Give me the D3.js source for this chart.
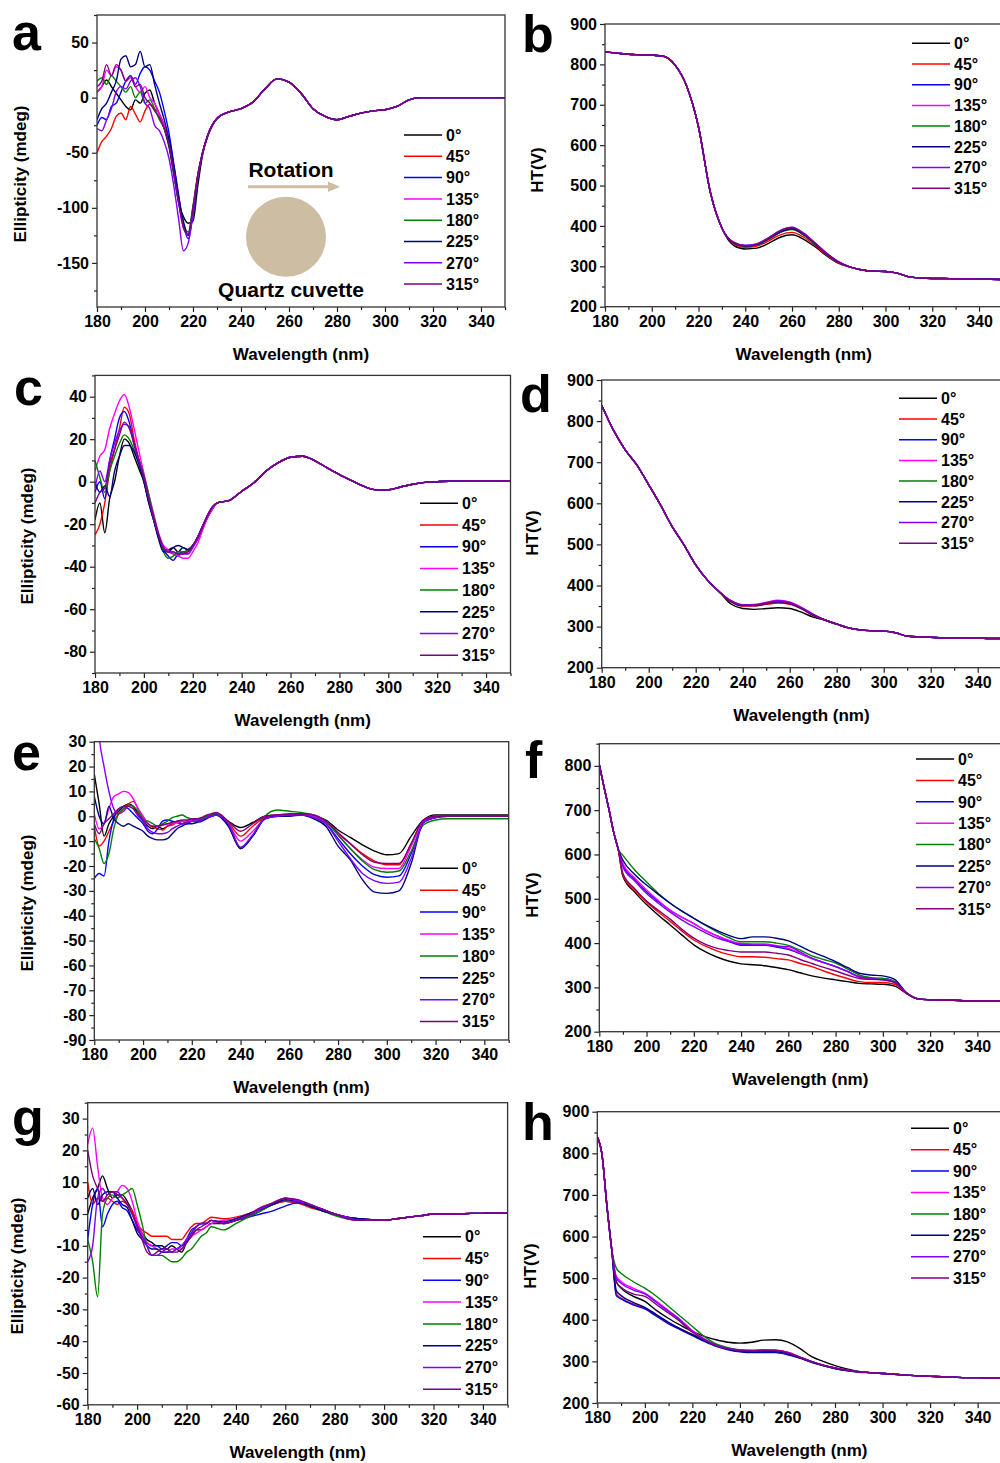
<!DOCTYPE html>
<html>
<head>
<meta charset="utf-8">
<script src="https://cdn.jsdelivr.net/npm/d3@7"></script>
<style>
  body { margin: 0; background: #fff; }
  svg { display: block; font-family: "Liberation Sans", Arial, sans-serif; font-weight: bold; }
</style>
</head>
<body>
<svg id="fig" width="1000" height="1463"></svg>
<script>
// ---- legend / series identity ----
const angleLabels = ["0°", "45°", "90°", "135°", "180°", "225°", "270°", "315°"];
const angleColors = ["#000000", "#ff0000", "#0000ff", "#ff00ff", "#008000", "#000080", "#8000ff", "#800080"];

// ---- wavelength grids (nm) ----
const cdWl = [180, 182, 184, 186, 188, 190, 192, 194, 196, 198, 200, 202, 204, 206, 208, 210, 212, 214, 216, 218, 220, 222, 224, 226, 228, 230,
  235, 240, 245, 250, 255, 260, 265, 270, 275, 280, 285, 290, 295, 300, 305, 310, 315, 320, 325, 330, 335, 340, 345, 350];
const htWl = [180, 185, 190, 195, 200, 205, 210, 215, 220, 225, 230, 235, 240, 245, 250, 255, 260, 265, 270, 275, 280, 285, 290, 295, 300,
  305, 310, 315, 320, 325, 330, 335, 340, 345, 350];
const htWlFine = [180, 182, 184, 186, 188, 190, 195, 200, 205, 210, 215, 220, 225, 230, 235, 240, 245, 250, 255, 260, 265, 270, 275, 280,
  285, 290, 295, 300, 305, 310, 315, 320, 325, 330, 335, 340, 345, 350];

const xMajor = [180, 200, 220, 240, 260, 280, 300, 320, 340];
const xMinor = [190, 210, 230, 250, 270, 290, 310, 330, 350];

// ---- panel a: CD, 180-230 per angle, shared tail 235-350 ----
const aHeads = [
  [5, 10, 16, 10, 4, -2, -8, -11, -2, -5, 4, 7, -5, -15, -28, -45, -70, -95, -108, -114, -112, -80, -52, -36, -26, -19],
  [-50, -40, -35, -28, -17, -14, -20, -8, -15, -22, -12, -6, -10, -15, -25, -40, -65, -92, -115, -125, -100, -70, -50, -35, -25, -19],
  [-25, -18, -20, -8, -5, 5, 15, 20, 12, 22, 28, 25, 15, 5, -12, -32, -60, -88, -115, -128, -105, -72, -50, -35, -25, -19],
  [5, 10, 25, 20, 28, 25, 15, 18, 10, 5, 10, 0, -5, -15, -25, -40, -65, -95, -118, -125, -100, -72, -50, -35, -25, -19],
  [15, 18, 12, 20, 15, 10, 5, 10, 0, 5, -5, -2, -10, -20, -28, -42, -68, -95, -115, -122, -98, -70, -50, -35, -25, -19],
  [-20, -10, -5, 5, 15, 35, 38, 28, 30, 42, 28, 30, 12, -5, -20, -38, -62, -90, -112, -125, -105, -72, -50, -35, -25, -19],
  [-28, -30, -20, -10, 5, 10, 8, 15, 18, 10, -5, -10, -25, -30, -40, -55, -80, -110, -139, -132, -105, -72, -50, -35, -25, -19],
  [10, 15, 30, 20, 30, 25, 15, 20, 10, 12, 0, -5, -12, -18, -28, -42, -68, -95, -118, -124, -100, -70, -50, -35, -25, -19]
];
const aTail = [-13, -10, -4, 8, 17, 14, 4, -10, -17, -20, -17, -14, -12, -11, -8, -2, 0, 0, 0, 0, 0, 0, 0, 0];

// ---- panel b: HT ----
const bHead = [831, 828, 825, 824, 823, 820, 798, 745, 645, 485, 395];
const bMids = [
  [352, 343, 345, 357, 372, 378, 367, 348, 325, 307],
  [356, 347, 350, 363, 378, 384, 372, 351, 327, 308],
  [358, 350, 354, 368, 385, 392, 378, 355, 330, 310],
  [359, 351, 355, 370, 387, 395, 380, 356, 331, 310],
  [358, 350, 353, 367, 384, 391, 377, 354, 330, 310],
  [358, 350, 354, 368, 385, 393, 379, 355, 330, 310],
  [360, 352, 356, 371, 389, 397, 382, 357, 332, 311],
  [359, 351, 355, 370, 388, 396, 381, 357, 331, 311]
];
const bTail = [298, 291, 288, 287, 283, 274, 271, 270, 270, 269, 269, 268, 268, 267];

// ---- panel c: CD ----
const cHeads = [
  [-18, -10, -24, -8, 0, 12, 20, 18, 12, 6, 0, -10, -18, -26, -32, -32, -31, -33, -31, -32, -30, -27, -22, -17, -13, -10],
  [-25, -20, -10, 5, 15, 25, 35, 32, 20, 10, 2, -8, -17, -25, -31, -33, -34, -35, -33, -34, -31, -27, -21, -16, -12, -10],
  [-5, 0, -8, 10, 20, 30, 33, 28, 18, 10, 1, -9, -18, -26, -32, -35, -37, -34, -33, -33, -30, -26, -21, -16, -12, -10],
  [5, 12, 15, 25, 32, 38, 41, 35, 25, 14, 4, -6, -15, -24, -30, -32, -34, -35, -36, -36, -33, -29, -23, -17, -13, -10],
  [10, 2, -5, 5, 12, 18, 22, 20, 15, 10, 3, -6, -16, -25, -33, -36, -35, -33, -33, -32, -30, -26, -21, -16, -12, -10],
  [0, -5, -2, -7, 5, 12, 17, 17, 14, 8, 0, -10, -18, -27, -33, -33, -31, -30, -31, -32, -30, -26, -21, -16, -12, -10],
  [-3, 5, 0, 10, 18, 24, 27, 26, 17, 10, 2, -8, -17, -25, -31, -33, -33, -34, -34, -34, -31, -27, -21, -16, -12, -10],
  [-10, -5, -3, 8, 15, 22, 28, 25, 18, 10, 2, -8, -17, -25, -31, -33, -33, -34, -34, -33, -30, -26, -21, -16, -12, -10]
];
const cTail = [-8.8, -4.5, -0.5, 5, 9, 11.5, 12, 9.8, 6.5, 3.3, 0.5, -2.2, -3.8, -3.8, -2.5, -1.2, -0.3, 0, 0.2, 0.2, 0.3, 0.3, 0.3, 0.3];

// ---- panel d: HT ----
const dHead = [838, 778, 730, 693, 645, 596, 543, 499, 450, 413, 385];
const dMids = [
  [355, 344, 342, 344, 346, 344, 335, 323],
  [360, 350, 350, 354, 357, 354, 343, 327],
  [362, 352, 352, 357, 361, 357, 345, 329],
  [363, 353, 354, 359, 364, 360, 347, 330],
  [362, 352, 352, 357, 361, 357, 345, 329],
  [361, 351, 351, 356, 360, 356, 344, 328],
  [363, 353, 353, 358, 363, 359, 346, 330],
  [362, 352, 352, 357, 361, 357, 345, 329]
];
const dTail = [316, 306, 297, 292, 290, 289, 285, 277, 275, 274, 273, 273, 272, 272, 271, 271];

// ---- panel e: CD ----
const eHeads = [
  [17, 5, -8, -3, 0, 2, 4, 5, 4, 1, -2, -4, -5, -4, -5, -4, -3, -2, -3, -2, -1, -2, -1, 0, 0.5, 1],
  [-4, -12, -10, -6, -2, 1, 3, 5, 6, 3, 0, -3, -4.5, -5, -5.5, -4, -3.5, -2.5, -3, -2, -1.5, -1.5, -1, 0, 0.5, 1],
  [-25, -23, -24, -10, -1, 3, 4, 3, 1, -1, -3, -6, -7, -5, -2, -1.5, -2, -2.5, -3, -3, -2, -2, -1.5, -0.5, 0, 0.5],
  [1, -5, -3, 3, 8, 9, 10, 9.5, 7, 3, 0, -3, -4, -4, -3.5, -3, -3, -2.5, -2, -2, -1.5, -1.5, -1, 0, 0.5, 1],
  [-9, -13, -19, -15, -5, 1, 3, 4.5, 4, 2, -1, -2, -3, -4, -3, -2, -0.5, 0, 0.5, -0.5, -1, -1.5, -1, 0, 0.5, 1],
  [8, 0, -3, 4, -1, -3, -4, -3, -4, -5, -6, -8, -9, -9.5, -9.5, -9, -7, -5, -4, -3, -3, -2.5, -2, -1, 0, 0.5],
  [60, 32, 20, 10, 3, 1, 2, 4, 3, 0, -2, -5, -6.5, -7, -7, -6.5, -5, -4, -3, -2.5, -2, -2, -1.5, -0.5, 0, 0.5],
  [-3, -7, -3, -1, 1, 3, 4, 4, 3, 1, -1.5, -3, -4, -4, -3.5, -3, -2.5, -2, -1.5, -1.5, -1, -1, -0.5, 0.5, 1, 1.5]
];
const eTails = [
  [-2, -4.5, -2.5, 0, 0.5, 0.5, 1, 0, -1.5, -5.5, -8.5, -11.5, -14, -15.5, -15, -8, -1.5, 0.5, 0.5, 0.5, 0.5, 0.5, 0.5, 0.5],
  [-2.5, -8, -4, -0.5, 0.5, 0.5, 1, 0, -2, -7, -11, -15, -18, -19.5, -19.5, -11, -2, 0, 0, 0, 0, 0, 0, 0],
  [-3.5, -13, -8, -1, 0, 0.5, 0.5, -0.5, -3, -9, -15, -20, -23.5, -24.5, -24, -15, -2.5, -0.5, 0, 0, 0, 0, 0, 0],
  [-3, -10, -6, -1, 0.5, 0.5, 1, 0, -2.5, -7.5, -13, -17.5, -20.5, -21, -21, -12, -2, 0, 0, 0, 0, 0, 0, 0],
  [-3, -12.5, -7.5, 0, 2.5, 2, 1.5, 0.5, -2, -7.5, -13, -18, -21.5, -22.5, -22, -14, -3.5, -1.5, -1, -1, -1, -1, -1, -1],
  [-4, -13, -8, -1, 0, 0, 0.5, -1, -4, -12, -17.5, -25.5, -30.5, -31, -30, -19, -2.5, -0.5, 0, 0, 0, 0, 0, 0],
  [-3, -12.5, -7.5, -1, 0, 0.5, 0.5, -0.5, -3, -10, -17, -23, -26, -27, -26.5, -17, -2.5, -0.5, 0, 0, 0, 0, 0, 0],
  [-2, -6, -3, 0, 0.5, 1, 1, 0.5, -2, -6.5, -11, -15.5, -18.5, -19, -19, -11, -1.5, 0, 0, 0, 0, 0, 0, 0]
];

// ---- panel f: HT (fine grid) ----
const fHead = [803, 752, 704, 652, 612];
const fMids = [
  [550, 515, 487, 463, 441, 418, 396, 380, 368, 359, 353, 351, 349, 345, 340, 333, 326, 321, 317, 313, 309, 308, 307, 303, 286],
  [553, 520, 493, 470, 449, 427, 407, 393, 382, 374, 369, 369, 368, 365, 362, 354, 347, 337, 328, 320, 313, 311, 311, 307, 287],
  [576, 544, 516, 494, 474, 458, 444, 428, 416, 404, 395, 395, 395, 391, 386, 376, 365, 356, 347, 336, 324, 320, 320, 313, 288],
  [580, 547, 520, 496, 474, 458, 444, 428, 416, 406, 399, 398, 398, 394, 388, 377, 365, 356, 347, 336, 324, 320, 318, 312, 287],
  [598, 565, 538, 512, 490, 472, 456, 440, 425, 412, 403, 403, 403, 400, 395, 384, 371, 363, 355, 342, 328, 322, 320, 313, 287],
  [587, 555, 531, 510, 490, 472, 456, 441, 428, 417, 410, 414, 414, 411, 405, 393, 380, 370, 358, 345, 332, 328, 326, 318, 288],
  [572, 540, 512, 490, 470, 452, 437, 423, 411, 403, 397, 396, 396, 393, 392, 380, 366, 356, 347, 336, 324, 320, 317, 312, 287],
  [557, 523, 495, 474, 454, 431, 411, 397, 388, 383, 380, 380, 380, 377, 373, 363, 354, 345, 337, 328, 320, 318, 317, 311, 287]
];
const fTail = [274, 272, 271, 271, 270, 270, 270, 270];

// ---- panel g: CD ----
const gHeads = [
  [0, 5, 8, 12, 8, 5, 6, 6, 4, 1, -3, -6, -8, -9, -10, -10, -11, -10, -11, -12, -9, -7, -5, -5, -4, -3],
  [10, 3, 5, 4, 5, 4, 3, 4, 3, 1, -3, -5, -6, -7, -7, -7, -7, -8, -8, -8, -6, -4, -3, -3, -2, -1],
  [-8, 3, 8, -4, 0, 3, 4, 2, 1, -2, -5, -7, -9, -10, -10, -11, -10, -9, -9, -10, -8, -5, -4, -3, -3, -2],
  [22, 27, 15, 5, 3, 5, 7, 9, 8, 4, -2, -6, -9, -10, -11, -12, -12, -11, -11, -11, -9, -7, -6, -5, -4, -3],
  [-8, -15, -26, 0, 5, 6, 5, 6, 7, 8, 3, -3, -10, -13, -13, -13, -14, -15, -15, -14, -12, -11, -9, -7, -6, -4],
  [5, 8, 3, 6, 7, 7, 5, 3, 2, -2, -6, -8, -10, -11, -11, -12, -12, -12, -11, -10, -9, -6, -4, -3, -3, -2],
  [-15, -10, 5, 8, 6, 7, 7, 5, 3, 0, -4, -7, -10, -13, -13, -12, -11, -12, -11, -10, -8, -6, -4, -3, -3, -2],
  [20, 12, 8, 4, 6, 7, 6, 5, 3, 0, -4, -8, -12, -13, -12, -11, -11, -12, -12, -11, -9, -7, -5, -4, -3, -2]
];
const gMids = [
  [-3, -2, -1, 1, 3, 4, 3.5, 2.5, 1.5, 0, -1, -1.5],
  [-1.5, -1, 0, 1.5, 3, 4, 3.5, 2, 1, 0, -1, -1.5],
  [-3, -2, -1, 0, 1, 2.5, 3.5, 2.5, 1, 0, -1, -1.5],
  [-2, -1.5, 0, 2, 3.5, 5, 4.5, 3, 1.5, 0, -1, -2],
  [-5, -3, -1, 1, 3, 5, 4, 2.5, 1, -0.5, -1.5, -2],
  [-2.5, -1.5, 0, 1.5, 3, 4.5, 4, 2.5, 1, 0, -1, -1.5],
  [-3, -2, -0.5, 1.5, 3.5, 5, 4, 3, 1.5, 0, -1, -2],
  [-3, -2, -0.5, 2, 3.5, 5, 4.5, 3, 1.5, 0, -1.5, -2]
];
const gEnd = [-1.8, -2, -1.5, -1, -0.5, 0, 0, 0, 0.2, 0.2, 0.3, 0.3];

// ---- panel h: HT (fine grid) ----
const hHead = [840, 796, 676, 572];
const hMids = [
  [492, 476, 457, 444, 422, 403, 387, 372, 360, 352, 346, 344, 346, 351, 352, 347, 332, 312, 300, 290, 282, 276],
  [462, 452, 438, 428, 410, 392, 378, 365, 350, 338, 330, 326, 325, 327, 327, 322, 311, 300, 291, 284, 279, 275],
  [458, 450, 436, 426, 408, 390, 376, 362, 348, 336, 328, 323, 321, 321, 321, 316, 308, 298, 290, 283, 278, 274],
  [505, 492, 476, 464, 444, 422, 400, 374, 354, 340, 332, 328, 327, 328, 327, 322, 311, 300, 291, 284, 279, 275],
  [524, 512, 492, 476, 456, 432, 408, 384, 360, 342, 333, 327, 325, 326, 325, 320, 310, 299, 290, 283, 278, 275],
  [470, 458, 442, 430, 412, 394, 378, 364, 350, 338, 329, 324, 322, 323, 323, 318, 309, 299, 290, 283, 278, 275],
  [500, 488, 472, 462, 441, 420, 398, 372, 353, 339, 331, 327, 326, 327, 326, 321, 311, 300, 291, 284, 279, 275],
  [490, 478, 462, 456, 436, 416, 395, 370, 352, 338, 330, 326, 325, 326, 326, 321, 310, 300, 291, 284, 279, 275]
];
const hTail = [273, 271, 269, 267, 265, 264, 263, 262, 261, 261, 260, 260];

function BuildSeries(wl, rows) {
  return rows.map((vals, i) => ({
    label: angleLabels[i],
    color: angleColors[i],
    points: wl.map((w, j) => [w, vals[j]])
  }));
}

const cdTitle = "Ellipticity (mdeg)";
const htTitle = "HT(V)";

// layout of the eight panels
const panels = [
  { id: "a", letter: [12, 50], left: 97, right: 505, top: 15, bottom: 307, yDomain: [-190, 75],
    yMajor: [-150, -100, -50, 0, 50], yMinor: [-175, -125, -75, -25, 25, 75],
    yTitle: cdTitle, yTitlePos: [20, 174], legend: [404, 135, 21.3],
    series: BuildSeries(cdWl, aHeads.map(h => h.concat(aTail))) },
  { id: "b", letter: [522, 52], left: 605, right: 1002.4, top: 24, bottom: 306.7, yDomain: [200, 900],
    yMajor: [200, 300, 400, 500, 600, 700, 800, 900], yMinor: [250, 350, 450, 550, 650, 750, 850],
    yTitle: htTitle, yTitlePos: [537, 170], legend: [912, 43.3, 20.7],
    series: BuildSeries(htWl, bMids.map(m => bHead.concat(m, bTail))) },
  { id: "c", letter: [14, 405], left: 95, right: 510.5, top: 375.4, bottom: 673, yDomain: [-90, 50],
    yMajor: [-80, -60, -40, -20, 0, 20, 40], yMinor: [-90, -70, -50, -30, -10, 10, 30, 50],
    yTitle: cdTitle, yTitlePos: [27, 536], legend: [420, 503.3, 21.7],
    series: BuildSeries(cdWl, cHeads.map(h => h.concat(cTail))) },
  { id: "d", letter: [520, 412], left: 601.7, right: 1001.2, top: 380, bottom: 667.7, yDomain: [200, 900],
    yMajor: [200, 300, 400, 500, 600, 700, 800, 900], yMinor: [250, 350, 450, 550, 650, 750, 850],
    yTitle: htTitle, yTitlePos: [532, 533], legend: [899, 398.3, 20.7],
    series: BuildSeries(htWl, dMids.map(m => dHead.concat(m, dTail))) },
  { id: "e", letter: [12, 770], left: 94.3, right: 508.7, top: 741.7, bottom: 1040, yDomain: [-90, 30],
    yMajor: [-90, -80, -70, -60, -50, -40, -30, -20, -10, 0, 10, 20, 30],
    yMinor: [-85, -75, -65, -55, -45, -35, -25, -15, -5, 5, 15, 25],
    yTitle: cdTitle, yTitlePos: [27, 903], legend: [420, 868.3, 21.9],
    series: BuildSeries(cdWl, eHeads.map((h, i) => h.concat(eTails[i]))) },
  { id: "f", letter: [525, 778], left: 599.3, right: 1001, top: 743.7, bottom: 1031.7, yDomain: [200, 850],
    yMajor: [200, 300, 400, 500, 600, 700, 800], yMinor: [250, 350, 450, 550, 650, 750, 850],
    yTitle: htTitle, yTitlePos: [532, 895], legend: [916, 759, 21.4],
    series: BuildSeries(htWlFine, fMids.map(m => fHead.concat(m, fTail))) },
  { id: "g", letter: [12, 1135], left: 87.7, right: 507.6, top: 1102.7, bottom: 1404.8, yDomain: [-60, 35],
    yMajor: [-60, -50, -40, -30, -20, -10, 0, 10, 20, 30],
    yMinor: [-55, -45, -35, -25, -15, -5, 5, 15, 25, 35],
    yTitle: cdTitle, yTitlePos: [17, 1266], legend: [423, 1236.7, 21.8],
    series: BuildSeries(cdWl, gHeads.map((h, i) => h.concat(gMids[i], gEnd))) },
  { id: "h", letter: [522, 1140], left: 597.3, right: 1001.4, top: 1111.7, bottom: 1403, yDomain: [200, 900],
    yMajor: [200, 300, 400, 500, 600, 700, 800, 900], yMinor: [250, 350, 450, 550, 650, 750, 850],
    yTitle: htTitle, yTitlePos: [530, 1266], legend: [911, 1128.3, 21.4],
    series: BuildSeries(htWlFine, hMids.map(m => hHead.concat(m, hTail))) }
];

const svg = d3.select("#fig");
const defs = svg.append("defs");
// plain hyphen for negatives, like the original figure
const tickFmt = d => String(d);

function DrawPanel(p) {
  const x = d3.scaleLinear().domain([180, 350]).range([p.left, p.right]);
  const y = d3.scaleLinear().domain(p.yDomain).range([p.bottom, p.top]);
  const g = svg.append("g").attr("class", "panel-" + p.id);

  defs.append("clipPath").attr("id", "clip-" + p.id)
    .append("rect")
    .attr("x", p.left).attr("y", p.top)
    .attr("width", p.right - p.left).attr("height", p.bottom - p.top);

  // data lines
  const line = d3.line()
    .x(d => x(d[0]))
    .y(d => y(d[1]))
    .curve(d3.curveMonotoneX);

  g.append("g")
    .attr("clip-path", `url(#clip-${p.id})`)
    .selectAll("path")
    .data(p.series)
    .join("path")
    .attr("d", d => line(d.points))
    .attr("fill", "none")
    .attr("stroke", d => d.color)
    .attr("stroke-width", 1.4)
    .attr("stroke-linejoin", "round");

  // x axis, major + minor
  g.append("g").attr("transform", `translate(0,${p.bottom})`)
    .call(d3.axisBottom(x).tickValues(xMajor).tickSize(5).tickPadding(4).tickFormat(tickFmt));
  g.append("g").attr("transform", `translate(0,${p.bottom})`)
    .call(d3.axisBottom(x).tickValues(xMinor).tickSize(3).tickFormat(""));

  // y axis, major + minor
  g.append("g").attr("transform", `translate(${p.left},0)`)
    .call(d3.axisLeft(y).tickValues(p.yMajor).tickSize(5).tickPadding(3).tickFormat(tickFmt));
  g.append("g").attr("transform", `translate(${p.left},0)`)
    .call(d3.axisLeft(y).tickValues(p.yMinor).tickSize(3).tickFormat(""));

  g.selectAll(".domain").remove();
  g.selectAll(".tick line").attr("stroke", "#222").attr("stroke-width", 1.2);
  g.selectAll(".tick text")
    .attr("fill", "#000")
    .attr("font-size", 16)
    .attr("font-weight", "bold")
    .attr("font-family", "Liberation Sans, Arial, sans-serif");

  // frame
  g.append("rect")
    .attr("x", p.left).attr("y", p.top)
    .attr("width", p.right - p.left).attr("height", p.bottom - p.top)
    .attr("fill", "none")
    .attr("stroke", "#333")
    .attr("stroke-width", 1.3);

  // titles
  g.append("text")
    .attr("x", (p.left + p.right) / 2)
    .attr("y", p.bottom + 53)
    .attr("text-anchor", "middle")
    .attr("font-size", 17)
    .text("Wavelength (nm)");

  g.append("text")
    .attr("transform", `translate(${p.yTitlePos[0]},${p.yTitlePos[1]}) rotate(-90)`)
    .attr("text-anchor", "middle")
    .attr("dy", "0.35em")
    .attr("font-size", 17)
    .text(p.yTitle);

  // panel letter
  g.append("text")
    .attr("x", p.letter[0])
    .attr("y", p.letter[1])
    .attr("font-size", 52)
    .text(p.id);

  // legend
  const [lx, ly, step] = p.legend;
  const legend = g.append("g")
    .selectAll("g")
    .data(p.series)
    .join("g")
    .attr("transform", (d, i) => `translate(${lx},${ly + i * step})`);

  legend.append("line")
    .attr("x1", 0).attr("x2", 38)
    .attr("stroke", d => d.color)
    .attr("stroke-width", 1.5);

  legend.append("text")
    .attr("x", 42)
    .attr("dy", "0.36em")
    .attr("font-size", 16)
    .text(d => d.label);

  return g;
}

panels.forEach(DrawPanel);

// cuvette sketch in panel a
const tan = "#cdbda2";
const sketch = svg.append("g");
sketch.append("text")
  .attr("x", 291).attr("y", 176.5)
  .attr("text-anchor", "middle")
  .attr("font-size", 21)
  .text("Rotation");
sketch.append("line")
  .attr("x1", 248).attr("x2", 330)
  .attr("y1", 186.7).attr("y2", 186.7)
  .attr("stroke", tan)
  .attr("stroke-width", 3);
sketch.append("path")
  .attr("d", "M328,181.5L340,186.7L328,191.9Z")
  .attr("fill", tan);
sketch.append("circle")
  .attr("cx", 286).attr("cy", 236.7)
  .attr("r", 40)
  .attr("fill", tan);
sketch.append("text")
  .attr("x", 291).attr("y", 297)
  .attr("text-anchor", "middle")
  .attr("font-size", 21)
  .text("Quartz cuvette");
</script>
</body>
</html>
